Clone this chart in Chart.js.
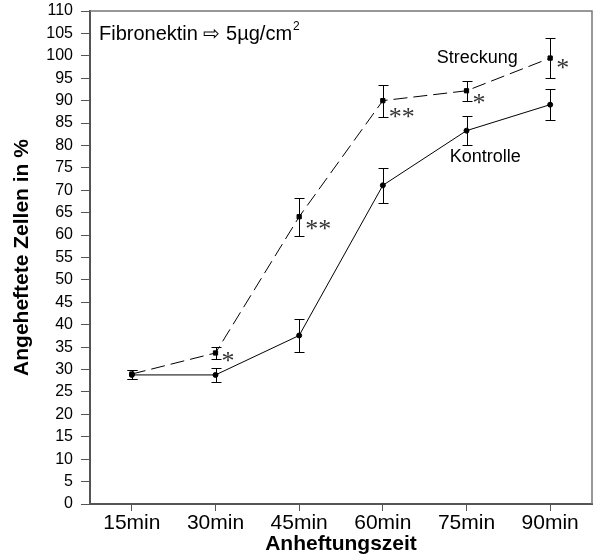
<!DOCTYPE html>
<html>
<head>
<meta charset="utf-8">
<script src="https://cdn.jsdelivr.net/npm/chart.js@4/dist/chart.umd.min.js"></script>
<style>
  html, body { margin: 0; padding: 0; background: #fff; }
  #wrap { width: 597px; height: 558px; position: relative; }
</style>
</head>
<body>
<div id="wrap"><canvas id="chart" width="597" height="558"></canvas></div>
<script>
const times = ["15min", "30min", "45min", "60min", "75min", "90min"];

const kontrolle = [28.8, 28.8, 37.6, 71.1, 83.3, 89.1];
const kontrolleErr = [1.0, 1.6, 3.7, 3.9, 3.3, 3.5];

const streckung = [29.0, 33.7, 64.1, 90.0, 92.2, 99.5];
const streckungErr = [1.0, 1.3, 4.2, 3.6, 2.2, 4.5];

// significance stars beside the stretched series, and the level (in %) they sit at
const stars = ["", "*", "**", "**", "*", "*"];
const starLevel = [null, 32.5, 62.0, 87.0, 90.2, 98.0];

const FONT = "'Liberation Sans', Arial, sans-serif";

// error bars, stars, series labels and the top/right frame
const extras = {
    id: "extras",
    afterDatasetsDraw(chart) {
        const ctx = chart.ctx;
        const y = chart.scales.y;
        const area = chart.chartArea;
        const errs = [kontrolleErr, streckungErr];

        ctx.save();
        ctx.strokeStyle = "#000";
        ctx.lineWidth = 1;
        chart.data.datasets.forEach((ds, di) => {
            const meta = chart.getDatasetMeta(di);
            meta.data.forEach((pt, i) => {
                const x = Math.round(pt.x) + 0.5;
                const top = Math.round(y.getPixelForValue(ds.data[i] + errs[di][i])) + 0.5;
                const bot = Math.round(y.getPixelForValue(ds.data[i] - errs[di][i])) + 0.5;
                ctx.beginPath();
                ctx.moveTo(x, top); ctx.lineTo(x, bot);
                ctx.moveTo(x - 5, top); ctx.lineTo(x + 5, top);
                ctx.moveTo(x - 5, bot); ctx.lineTo(x + 5, bot);
                ctx.stroke();
            });
        });

        // stars
        const sMeta = chart.getDatasetMeta(1);
        ctx.fillStyle = "#333";
        ctx.font = "26px 'Liberation Serif', 'Times New Roman', serif";
        ctx.textAlign = "left";
        ctx.textBaseline = "middle";
        stars.forEach((s, i) => {
            if (!s) return;
            const pt = sMeta.data[i];
            ctx.fillText(s, pt.x + 6, y.getPixelForValue(starLevel[i]) + 4);
        });

        // series labels
        ctx.fillStyle = "#000";
        ctx.font = "18px " + FONT;
        ctx.textAlign = "center";
        const kMeta = chart.getDatasetMeta(0);
        ctx.fillText("Streckung", (sMeta.data[4].x + sMeta.data[5].x) / 2 - 31, y.getPixelForValue(99.5));
        ctx.fillText("Kontrolle", (kMeta.data[4].x + kMeta.data[5].x) / 2 - 23, y.getPixelForValue(77.5));

        // header text
        ctx.textAlign = "left";
        ctx.font = "20px " + FONT;
        const head = "Fibronektin \u21E8 5\u00B5g/cm";
        const hx = area.left + 9, hy = y.getPixelForValue(104.8);
        ctx.fillText(head, hx, hy);
        const w = ctx.measureText(head).width;
        ctx.font = "12px " + FONT;
        ctx.fillText("2", hx + w + 1, hy - 8);

        // frame on top and right
        ctx.strokeStyle = "#777";
        ctx.lineWidth = 1.5;
        ctx.beginPath();
        ctx.moveTo(area.left, area.top);
        ctx.lineTo(area.right, area.top);
        ctx.lineTo(area.right, area.bottom);
        ctx.stroke();
        ctx.restore();
    }
};

new Chart(document.getElementById("chart"), {
    type: "line",
    data: {
        labels: times,
        datasets: [
            {
                label: "Kontrolle",
                data: kontrolle,
                borderColor: "#000",
                backgroundColor: "#000",
                borderWidth: 1,
                pointStyle: "circle",
                pointRadius: 2.5,
                tension: 0
            },
            {
                label: "Streckung",
                data: streckung,
                borderColor: "#000",
                backgroundColor: "#000",
                borderWidth: 1,
                borderDash: [14, 6],
                pointStyle: "rect",
                pointRadius: 3,
                tension: 0
            }
        ]
    },
    options: {
        responsive: false,
        animation: false,
        layout: { padding: { top: 11, right: 0, left: 4, bottom: 0 } },
        plugins: {
            legend: { display: false },
            tooltip: { enabled: false }
        },
        scales: {
            x: {
                offset: true,
                afterFit: s => { s.height = 54; s.paddingLeft = 0; s.paddingRight = 0; },
                grid: {
                    display: true,
                    drawOnChartArea: false,
                    tickLength: 7,
                    color: "#555",
                    offset: false
                },
                border: { color: "#555", width: 2 },
                ticks: {
                    color: "#000",
                    padding: 0,
                    font: { family: FONT, size: 21 }
                },
                title: {
                    display: true,
                    text: "Anheftungszeit",
                    color: "#000",
                    padding: { top: 0, bottom: 1 },
                    font: { family: FONT, size: 21, weight: "bold" }
                }
            },
            y: {
                min: 0,
                max: 110,
                afterFit: s => { s.width = 86; s.paddingTop = 0; s.paddingBottom = 0; },
                grid: {
                    display: true,
                    drawOnChartArea: false,
                    tickLength: 9,
                    color: "#555"
                },
                border: { color: "#555", width: 2 },
                ticks: {
                    stepSize: 5,
                    autoSkip: false,
                    color: "#000",
                    padding: 8,
                    font: { family: FONT, size: 16 }
                },
                title: {
                    display: true,
                    text: "Angeheftete Zellen in %",
                    color: "#000",
                    padding: { top: 6, bottom: 0 },
                    font: { family: FONT, size: 21, weight: "bold" }
                }
            }
        }
    },
    plugins: [extras]
});
</script>
</body>
</html>
